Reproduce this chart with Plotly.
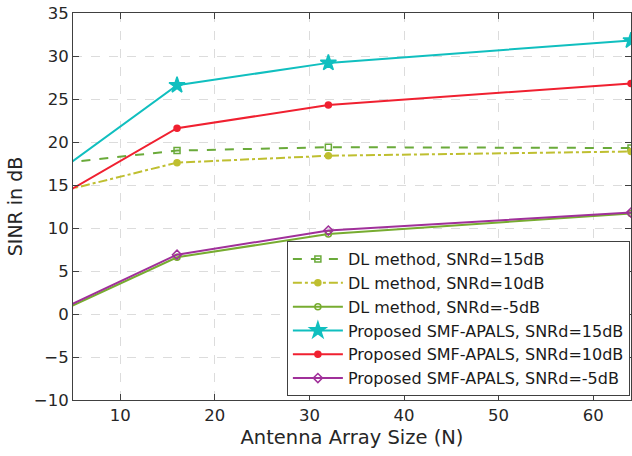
import plotly.graph_objects as go

N = [4, 16, 32, 64]
dl_15 = [17.58, 19.0, 19.4, 19.3]
dl_10 = [14.33, 17.6, 18.4, 18.9]
dl_m5 = [0.49, 6.6, 9.3, 11.7]
sm_15 = [17.0, 26.6, 29.2, 31.8]
sm_10 = [13.96, 21.6, 24.3, 26.8]
sm_m5 = [0.68, 6.9, 9.7, 11.8]

names = ["DL method, SNRd=15dB", "DL method, SNRd=10dB", "DL method, SNRd=-5dB",
         "Proposed SMF-APALS, SNRd=15dB", "Proposed SMF-APALS, SNRd=10dB",
         "Proposed SMF-APALS, SNRd=-5dB"]
series = [dl_15, dl_10, dl_m5, sm_15, sm_10, sm_m5]
colors = ["#6AAA3A", "#BFBF30", "#77AC30", "#10BFBF", "#F02030", "#A0309A"]
dashes = ["dash", "dashdot", "solid", "solid", "solid", "solid"]
symbols = ["square-open", "circle", "circle-open", "star", "circle", "diamond-open"]
msizes = [6, 6, 6, 12, 6, 7]

FONT = "DejaVu Sans"

fig = go.Figure()
for name, ys, c, d, s, ms in zip(names, series, colors, dashes, symbols, msizes):
    fig.add_trace(go.Scatter(
        x=N, y=ys, name=name, mode="lines+markers",
        line=dict(color=c, width=2, dash=d),
        marker=dict(symbol=s, size=ms, color=c, line=dict(color=c, width=1.5)),
        cliponaxis=True,
    ))

axis_common = dict(
    showline=True, linecolor="#404040", linewidth=1, mirror="ticks",
    ticks="inside", ticklen=6, tickcolor="#404040",
    showgrid=True, gridcolor="#DCDCDC", griddash="dash", gridwidth=1,
    zeroline=False,
    tickfont=dict(family=FONT, size=16.5, color="#262626"),
)

fig.update_layout(
    width=632, height=456,
    margin=dict(l=73, r=1, t=13, b=56),
    paper_bgcolor="white", plot_bgcolor="white",
    xaxis=dict(range=[5, 64], tickvals=[10, 20, 30, 40, 50, 60],
               title=dict(text="Antenna Array Size (N)", standoff=6,
                          font=dict(family=FONT, size=19.5, color="#262626")),
               **axis_common),
    yaxis=dict(range=[-10, 35], tickvals=list(range(-10, 36, 5)),
               title=dict(text="SINR in dB", standoff=6,
                          font=dict(family=FONT, size=19, color="#262626")),
               **axis_common),
    legend=dict(x=0.998, y=0.01, xanchor="right", yanchor="bottom",
                bgcolor="white", bordercolor="#404040", borderwidth=1,
                font=dict(family=FONT, size=16, color="#1a1a1a"),
                tracegroupgap=0, itemwidth=50),
    showlegend=True,
)

fig.write_html("out.html")
